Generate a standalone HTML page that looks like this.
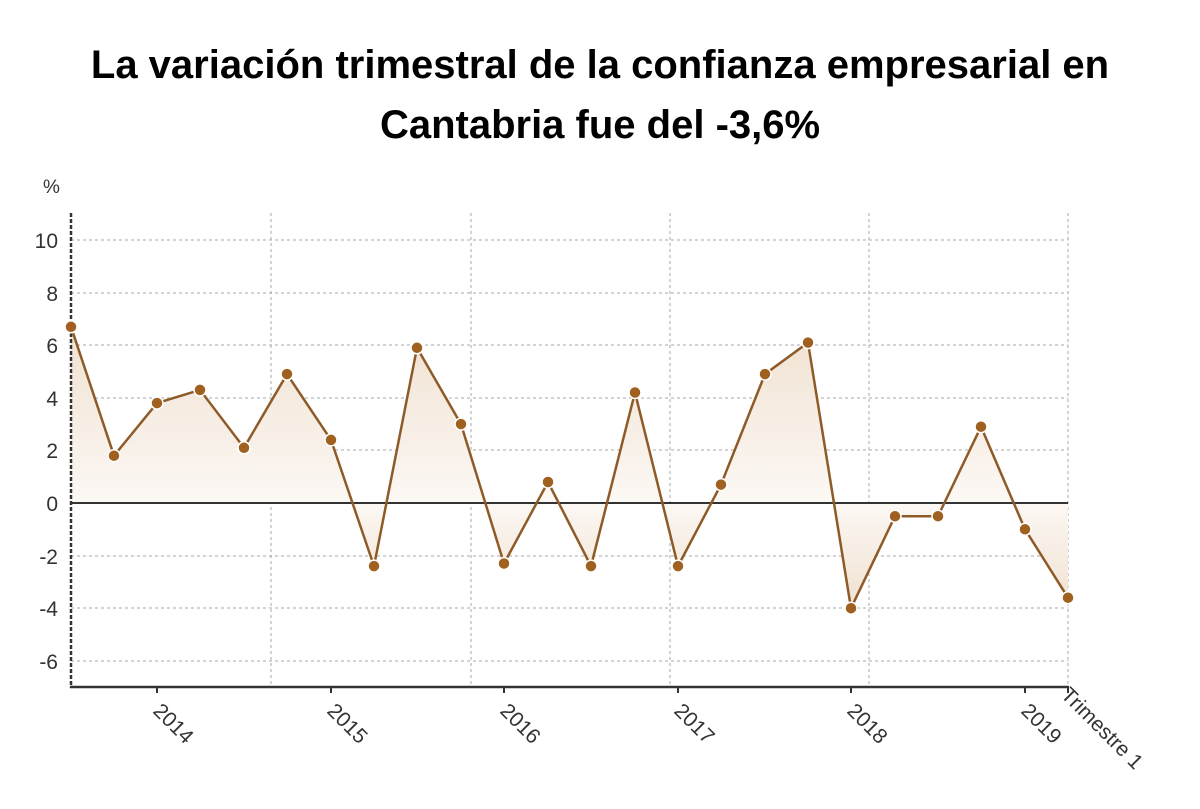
<!DOCTYPE html>
<html><head><meta charset="utf-8"><style>
html,body{margin:0;padding:0;background:#fff;}
svg{display:block;font-family:"Liberation Sans",sans-serif;}
</style></head><body>
<svg width="1200" height="809" viewBox="0 0 1200 809" xmlns="http://www.w3.org/2000/svg">
<defs>
<linearGradient id="g" gradientUnits="userSpaceOnUse" x1="0" y1="240" x2="0" y2="661">
<stop offset="0" stop-color="#ead6c0"/>
<stop offset="0.62" stop-color="#fcf8f4"/>
<stop offset="1" stop-color="#ead6c0"/>
</linearGradient>
</defs>
<text x="600" y="78" text-anchor="middle" font-size="40" font-weight="bold" fill="#000">La variación trimestral de la confianza empresarial en</text>
<text x="600" y="138" text-anchor="middle" font-size="40" font-weight="bold" fill="#000">Cantabria fue del -3,6%</text>
<text x="43" y="193" font-size="19" fill="#333">%</text>
<g stroke="#aaa" stroke-width="1" stroke-dasharray="3,3">
<line x1="71" y1="240" x2="1068" y2="240"/>
<line x1="71" y1="293" x2="1068" y2="293"/>
<line x1="71" y1="345" x2="1068" y2="345"/>
<line x1="71" y1="398" x2="1068" y2="398"/>
<line x1="71" y1="450" x2="1068" y2="450"/>
<line x1="71" y1="556" x2="1068" y2="556"/>
<line x1="71" y1="608" x2="1068" y2="608"/>
<line x1="71" y1="661" x2="1068" y2="661"/>
<line x1="271" y1="213" x2="271" y2="687"/>
<line x1="471" y1="213" x2="471" y2="687"/>
<line x1="670" y1="213" x2="670" y2="687"/>
<line x1="869" y1="213" x2="869" y2="687"/>
<line x1="1068" y1="213" x2="1068" y2="687"/>
</g>
<g font-size="21" fill="#333" text-anchor="end">
<text x="58" y="248">10</text><text x="58" y="301">8</text><text x="58" y="353">6</text><text x="58" y="406">4</text><text x="58" y="458">2</text><text x="58" y="511">0</text><text x="58" y="564">-2</text><text x="58" y="616">-4</text><text x="58" y="669">-6</text>
</g>
<polygon fill="url(#g)" points="71,503 71,326.8 114,455.7 157,403.1 200,389.9 244,447.8 287,374.1 331,439.9 374,566.1 417,347.8 461,424.1 504,563.5 548,482 591,566.1 635,392.5 678,566.1 721,484.6 765,374.1 808,342.6 851,608.2 895,516.2 938,516.2 981,426.7 1025,529.3 1068,597.7 1068,503"/>
<line x1="71" y1="503" x2="1068" y2="503" stroke="#333" stroke-width="2"/>
<line x1="71" y1="213" x2="71" y2="688" stroke="#333" stroke-width="2.5" stroke-dasharray="4,2"/>
<line x1="70" y1="687" x2="1069" y2="687" stroke="#333" stroke-width="2.5"/>
<g stroke="#333" stroke-width="2">
<line x1="157" y1="687" x2="157" y2="693"/><line x1="331" y1="687" x2="331" y2="693"/><line x1="504" y1="687" x2="504" y2="693"/><line x1="678" y1="687" x2="678" y2="693"/><line x1="851" y1="687" x2="851" y2="693"/><line x1="1025" y1="687" x2="1025" y2="693"/><line x1="1068" y1="687" x2="1068" y2="693"/>
</g>
<polyline fill="none" stroke="#8e5b28" stroke-width="2.5" points="71,326.8 114,455.7 157,403.1 200,389.9 244,447.8 287,374.1 331,439.9 374,566.1 417,347.8 461,424.1 504,563.5 548,482 591,566.1 635,392.5 678,566.1 721,484.6 765,374.1 808,342.6 851,608.2 895,516.2 938,516.2 981,426.7 1025,529.3 1068,597.7"/>
<g fill="#a0601f" stroke="#fff" stroke-width="1.5">
<circle cx="71" cy="326.8" r="6"/><circle cx="114" cy="455.7" r="6"/><circle cx="157" cy="403.1" r="6"/><circle cx="200" cy="389.9" r="6"/><circle cx="244" cy="447.8" r="6"/><circle cx="287" cy="374.1" r="6"/><circle cx="331" cy="439.9" r="6"/><circle cx="374" cy="566.1" r="6"/><circle cx="417" cy="347.8" r="6"/><circle cx="461" cy="424.1" r="6"/><circle cx="504" cy="563.5" r="6"/><circle cx="548" cy="482" r="6"/><circle cx="591" cy="566.1" r="6"/><circle cx="635" cy="392.5" r="6"/><circle cx="678" cy="566.1" r="6"/><circle cx="721" cy="484.6" r="6"/><circle cx="765" cy="374.1" r="6"/><circle cx="808" cy="342.6" r="6"/><circle cx="851" cy="608.2" r="6"/><circle cx="895" cy="516.2" r="6"/><circle cx="938" cy="516.2" r="6"/><circle cx="981" cy="426.7" r="6"/><circle cx="1025" cy="529.3" r="6"/><circle cx="1068" cy="597.7" r="6"/>
</g>
<g font-size="21" fill="#333">
<text transform="translate(152,712) rotate(45)">2014</text>
<text transform="translate(326,712) rotate(45)">2015</text>
<text transform="translate(499,712) rotate(45)">2016</text>
<text transform="translate(673,712) rotate(45)">2017</text>
<text transform="translate(846,712) rotate(45)">2018</text>
<text transform="translate(1020,712) rotate(45)">2019</text>
<text transform="translate(1060,696) rotate(45)">Trimestre 1</text>
</g>
</svg>
</body></html>
